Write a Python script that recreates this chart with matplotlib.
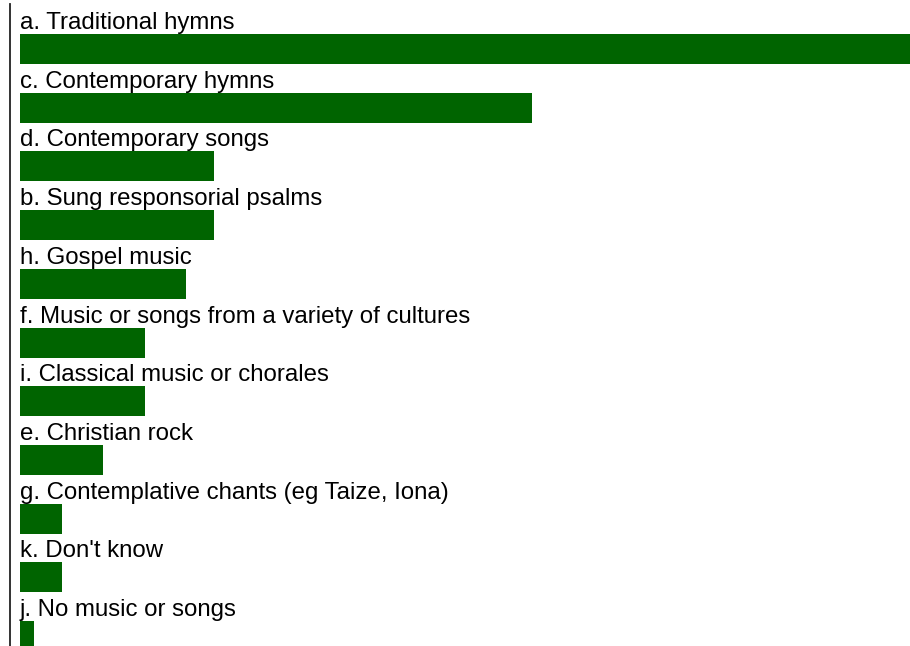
import matplotlib
matplotlib.use("Agg")
import matplotlib.pyplot as plt

categories = [
    "a. Traditional hymns",
    "c. Contemporary hymns",
    "d. Contemporary songs",
    "b. Sung responsorial psalms",
    "h. Gospel music",
    "f. Music or songs from a variety of cultures",
    "i. Classical music or chorales",
    "e. Christian rock",
    "g. Contemplative chants (eg Taize, Iona)",
    "k. Don't know",
    "j. No music or songs",
]
values = [65, 37, 14, 14, 12, 9, 9, 6, 3, 3, 1]

W, H = 910, 646
fig = plt.figure(figsize=(W / 100, H / 100), dpi=100)
ax = fig.add_axes([10 / W, 0, 900 / W, 1])

unit_px = 13.85
spacing = 58.7
first_center = 49.0
bar_h = 30 / spacing

ypos = list(range(len(categories)))
ax.barh(ypos, values, height=bar_h, color="#006400", align="center")

for i, lab in enumerate(categories):
    ax.text(0, i - bar_h / 2 - 5 / spacing, lab, ha="left", va="baseline",
            fontsize=17.3, family=["Liberation Sans", "DejaVu Sans"], color="#000000")

ax.set_xlim(-10 / unit_px, 890 / unit_px)
ax.set_ylim((H - first_center) / spacing, -first_center / spacing)
for s in ["top", "right", "bottom"]:
    ax.spines[s].set_visible(False)
ax.spines["left"].set_color("#222222")
ax.spines["left"].set_linewidth(1.3)
ax.spines["left"].set_bounds((4 - first_center) / spacing, (H - first_center) / spacing)
ax.set_xticks([])
ax.set_yticks([])
ax.patch.set_alpha(0)

fig.savefig("out.png", dpi=100)
